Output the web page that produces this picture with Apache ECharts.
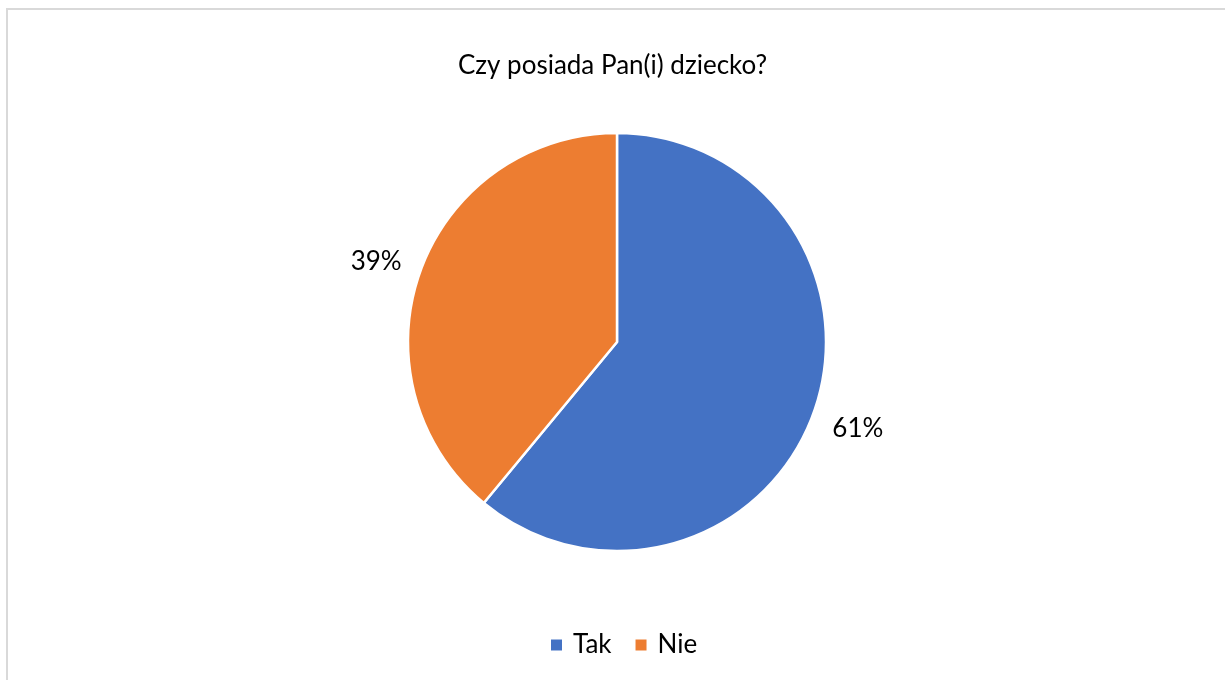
<!DOCTYPE html>
<html>
<head>
<meta charset="utf-8">
<script src="https://cdn.jsdelivr.net/npm/echarts@6/dist/echarts.min.js"></script>
<style>
html,body{margin:0;padding:0;background:#fff;}
#chart{width:1225px;height:680px;}
</style>
</head>
<body>
<div id="chart"></div>
<script>
const titleText = 'Czy posiada Pan(i) dziecko?';
const categories = ['Tak', 'Nie'];
const values = [61, 39];
const colors = ['#4472C4', '#ED7D31'];
const labelOffsets = [[0, 0], [0, 6]];

const FONT = 'Lato';
const chart = echarts.init(document.getElementById('chart'), null, {renderer: 'canvas'});
const pieData = categories.map((c, i) => ({name: c, value: values[i], itemStyle: {color: colors[i]}}));
const total = values.reduce((a, b) => a + b, 0);

chart.setOption({
  animation: false,
  backgroundColor: '#fff',
  graphic: [{
    type: 'rect', silent: true, z: -10,
    shape: {x: 7, y: 9, width: 1400, height: 1000},
    style: {fill: 'none', stroke: '#d9d9d9', lineWidth: 2}
  }],
  title: {
    text: titleText, left: 'center', top: 48,
    textStyle: {fontFamily: FONT, fontSize: 26, fontWeight: 'normal', color: '#000'}
  },
  legend: {
    data: categories, top: 627, left: 546,
    icon: 'rect', itemWidth: 11, itemHeight: 11, itemGap: 24, itemStyle: {borderWidth: 0},
    textStyle: {fontFamily: FONT, fontSize: 26, color: '#000', padding: [0, 0, 0, 6]}
  },
  series: [{
    type: 'pie', center: [617, 342], radius: 209, startAngle: 90, clockwise: true,
    label: {show: false}, labelLine: {show: false},
    itemStyle: {borderColor: '#fff', borderWidth: 2.5},
    emphasis: {disabled: true},
    data: pieData
  }, {
    type: 'pie', center: [617, 342], radius: 506, startAngle: 90, clockwise: true,
    silent: true, z: 1,
    itemStyle: {color: 'rgba(0,0,0,0)', borderWidth: 0},
    label: {
      show: true, position: 'inside', fontFamily: FONT, fontSize: 26, color: '#000',
      formatter: p => Math.round(p.value / total * 100) + '%'
    },
    labelLine: {show: false},
    emphasis: {disabled: true},
    data: categories.map((c, i) => ({name: c, value: values[i], label: {offset: labelOffsets[i]}}))
  }]
});
</script>
</body>
</html>
